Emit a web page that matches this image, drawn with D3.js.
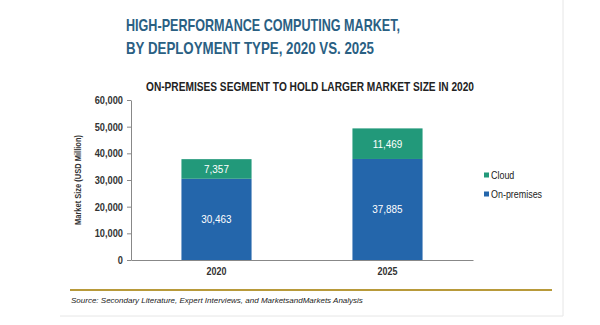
<!DOCTYPE html>
<html><head><meta charset="utf-8">
<script src="https://cdn.jsdelivr.net/npm/d3@7"></script>
<style>
html,body{margin:0;padding:0;background:#fff;}
svg{display:block;}
text{font-family:"Liberation Sans",Arial,sans-serif;}
</style></head>
<body>
<script>
const years = ["2020", "2025"];
const onPremises = [30463, 37885];
const cloud = [7357, 11469];
const seriesNames = ["On-premises", "Cloud"];
const seriesColors = ["#2466ab", "#22997a"];
const yTicks = [0, 10000, 20000, 30000, 40000, 50000, 60000];

const W = 600, H = 325;
const svg = d3.select("body").append("svg").attr("width", W).attr("height", H);

function squeeze(sel, f) {
  sel.each(function () {
    const w = this.getComputedTextLength();
    d3.select(this).attr("textLength", w * f).attr("lengthAdjust", "spacingAndGlyphs");
  });
}
function fitTo(sel, w) {
  sel.attr("textLength", w).attr("lengthAdjust", "spacingAndGlyphs");
}

// panel border
svg.append("path").attr("d", "M563,0 V316 H60").attr("fill", "none").attr("stroke", "#e6e6e6").attr("stroke-width", 1);

// titles
const t1 = svg.append("text").attr("x", 126).attr("y", 31).attr("fill", "#2a6083")
  .style("font-size", "17px").style("font-weight", "bold").text("HIGH-PERFORMANCE COMPUTING MARKET,");
fitTo(t1, 274);
const t2 = svg.append("text").attr("x", 126).attr("y", 54).attr("fill", "#2a6083")
  .style("font-size", "17px").style("font-weight", "bold").text("BY DEPLOYMENT TYPE, 2020 VS. 2025");
fitTo(t2, 248);

const st = svg.append("text").attr("x", 146).attr("y", 91)
  .attr("fill", "#222").style("font-size", "13px").style("font-weight", "bold")
  .text("ON-PREMISES SEGMENT TO HOLD LARGER MARKET SIZE IN 2020");
fitTo(st, 328);

const x = d3.scaleBand().domain(years).range([131, 473]).paddingInner(0.59).paddingOuter(0.295);
const y = d3.scaleLinear().domain([0, 60000]).range([260, 100]);

const data = years.map((yr, i) => ({year: yr, "On-premises": onPremises[i], "Cloud": cloud[i]}));
const stack = d3.stack().keys(seriesNames)(data);

const g = svg.append("g");
stack.forEach((layer, li) => {
  g.selectAll(null).data(layer).enter().append("rect")
    .attr("x", d => x(d.data.year)).attr("width", x.bandwidth())
    .attr("y", d => y(d[1])).attr("height", d => y(d[0]) - y(d[1]))
    .attr("fill", seriesColors[li]);
  const lbl = g.selectAll(null).data(layer).enter().append("text")
    .attr("x", d => x(d.data.year) + x.bandwidth() / 2)
    .attr("y", d => (y(d[0]) + y(d[1])) / 2 + 4)
    .attr("text-anchor", "middle").attr("fill", "#fff")
    .style("font-size", "11px")
    .text(d => d3.format(",")(d[1] - d[0]));
  squeeze(lbl, 0.9);
});

// y axis
const ya = svg.append("g").attr("transform", "translate(131,0)")
  .call(d3.axisLeft(y).tickValues(yTicks).tickFormat(d3.format(",")).tickSize(4).tickSizeOuter(0).tickPadding(4));
ya.select(".domain").attr("stroke", "#888");
ya.selectAll(".tick line").attr("stroke", "#888");
ya.selectAll(".tick text").attr("fill", "#333").style("font-size", "10.5px").style("font-weight", "bold")
  .style("font-family", "'Liberation Sans',Arial,sans-serif");
squeeze(ya.selectAll(".tick text"), 0.88);

// x axis
const xa = svg.append("g").attr("transform", "translate(0,260)")
  .call(d3.axisBottom(x).tickSize(0).tickPadding(8));
xa.select(".domain").attr("stroke", "#888");
xa.selectAll(".tick text").attr("fill", "#333").style("font-size", "10.5px").style("font-weight", "bold")
  .style("font-family", "'Liberation Sans',Arial,sans-serif");
squeeze(xa.selectAll(".tick text"), 0.85);

// y title
const yt = svg.append("text").attr("transform", "translate(81,180) rotate(-90)").attr("text-anchor", "middle")
  .attr("fill", "#333").style("font-size", "8.5px").style("font-weight", "bold")
  .text("Market Size (USD Million)");
fitTo(yt, 90);

// legend
const legendItems = ["Cloud", "On-premises"];
const legendColors = ["#22997a", "#2466ab"];
const lg = svg.append("g");
legendItems.forEach((name, i) => {
  const yy = 175 + i * 19;
  lg.append("rect").attr("x", 484).attr("y", yy - 2.5).attr("width", 5).attr("height", 5).attr("fill", legendColors[i]);
  const lt = lg.append("text").attr("x", 491).attr("y", yy + 4).attr("fill", "#222").style("font-size", "10.5px").text(name);
  squeeze(lt, 0.85);
});

// gold rule
svg.append("line").attr("x1", 70).attr("x2", 552).attr("y1", 290).attr("y2", 290).attr("stroke", "#b89a3a").attr("stroke-width", 2);

svg.append("text").attr("x", 71).attr("y", 303).attr("fill", "#222")
  .style("font-size", "8px").style("font-style", "italic")
  .text("Source: Secondary Literature, Expert Interviews, and MarketsandMarkets Analysis");
</script>
</body></html>
